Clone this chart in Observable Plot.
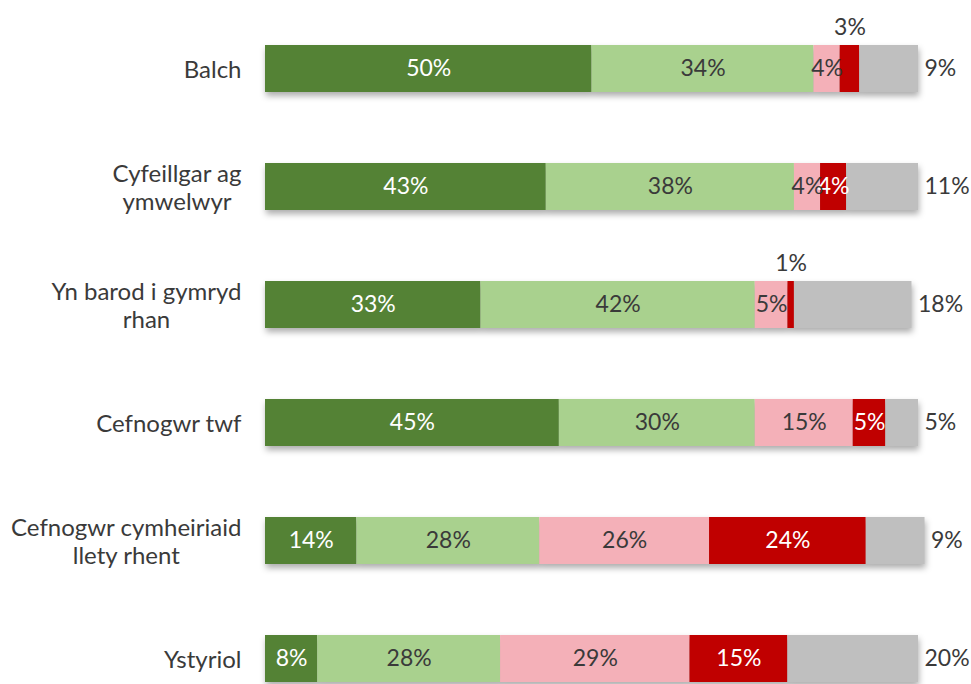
<!DOCTYPE html>
<html>
<head>
<meta charset="utf-8">
<script src="https://cdn.jsdelivr.net/npm/d3@7"></script>
<script src="https://cdn.jsdelivr.net/npm/@observablehq/plot@0.6"></script>
<style>
  html, body { margin: 0; padding: 0; background: #ffffff; }
  #wrap { width: 971px; height: 684px; overflow: hidden; }
  g[aria-label="bar"] { filter: drop-shadow(1px 4px 3px rgba(0,0,0,0.32)); }
</style>
</head>
<body>
<div id="wrap"></div>
<script>
// ---- data ----
const categories = [
  "Balch",
  "Cyfeillgar ag\nymwelwyr",
  "Yn barod i gymryd\nrhan",
  "Cefnogwr twf",
  "Cefnogwr cymheiriaid\nllety rhent",
  "Ystyriol"
];
const levels = ["Cytuno'n gryf", "Cytuno", "Anghytuno", "Anghytuno'n gryf", "Ddim yn gwybod"];
const strongAgree    = [50, 43, 33, 45, 14, 8];
const agree          = [34, 38, 42, 30, 28, 28];
const disagree       = [4, 4, 5, 15, 26, 29];
const strongDisagree = [3, 4, 1, 5, 24, 15];
const dontKnow       = [9, 11, 18, 5, 9, 20];
const colors = ["#548235", "#a9d18e", "#f4b0b8", "#c00000", "#bfbfbf"];

const series = [strongAgree, agree, disagree, strongDisagree, dontKnow];
const rows = [];
categories.forEach((cat, i) => {
  levels.forEach((lev, j) => {
    rows.push({cat, level: lev, li: j, value: series[j][i]});
  });
});

const dark = "#3a3a3a";
const valueSize = 23;
const stackOpts = (extra) => Plot.stackX({x: "value", y: "cat", z: "level", order: levels, ...extra});

const chart = Plot.plot({
  width: 971,
  height: 720,
  marginLeft: 265,
  marginRight: 53,
  marginTop: 8,
  marginBottom: 0,
  style: {fontFamily: "Lato, 'Open Sans', sans-serif", fontSize: "24px", color: dark, background: "#ffffff"},
  x: {domain: [0, 100], axis: null},
  y: {domain: categories, paddingInner: 0.6, paddingOuter: 0.3, label: null},
  color: {domain: levels, range: colors},
  marks: [
    Plot.barX(rows, stackOpts({fill: "level"})),
    Plot.axisY({tickSize: 0, tickPadding: 24, label: null, lineHeight: 1.17, fontSize: 24}),
    // inside labels, white text (strong agree / strong disagree)
    Plot.text(rows, stackOpts({
      text: d => (d.li === 0 || d.li === 3) && d.value >= 4 ? d.value + "%" : "",
      fill: "white", fontSize: valueSize
    })),
    // inside labels, dark text (agree / disagree)
    Plot.text(rows, stackOpts({
      text: d => (d.li === 1 || d.li === 2) && d.value >= 4 ? d.value + "%" : "",
      fill: dark, fontSize: valueSize
    })),
    // small segments: labels above the bar
    Plot.text(rows, stackOpts({
      text: d => d.li < 4 && d.value < 4 ? d.value + "%" : "",
      fill: dark, fontSize: valueSize, dy: -41
    })),
    // "don't know" labels to the right of each bar
    Plot.text(rows, Plot.stackX2({
      x: "value", y: "cat", z: "level", order: levels,
      text: d => d.li === 4 ? d.value + "%" : "",
      fill: dark, fontSize: valueSize, textAnchor: "start", dx: 6
    }))
  ]
});

document.getElementById("wrap").appendChild(chart);

// centre-align the lines of multi-line category labels (block stays right-aligned)
chart.querySelectorAll('g[aria-label="y-axis tick label"] text').forEach(t => {
  const spans = t.querySelectorAll("tspan");
  if (spans.length > 1) {
    let maxW = 0;
    spans.forEach(s => { maxW = Math.max(maxW, s.getComputedTextLength()); });
    t.setAttribute("text-anchor", "middle");
    spans.forEach(s => s.setAttribute("x", -maxW / 2));
  }
});
</script>
</body>
</html>
